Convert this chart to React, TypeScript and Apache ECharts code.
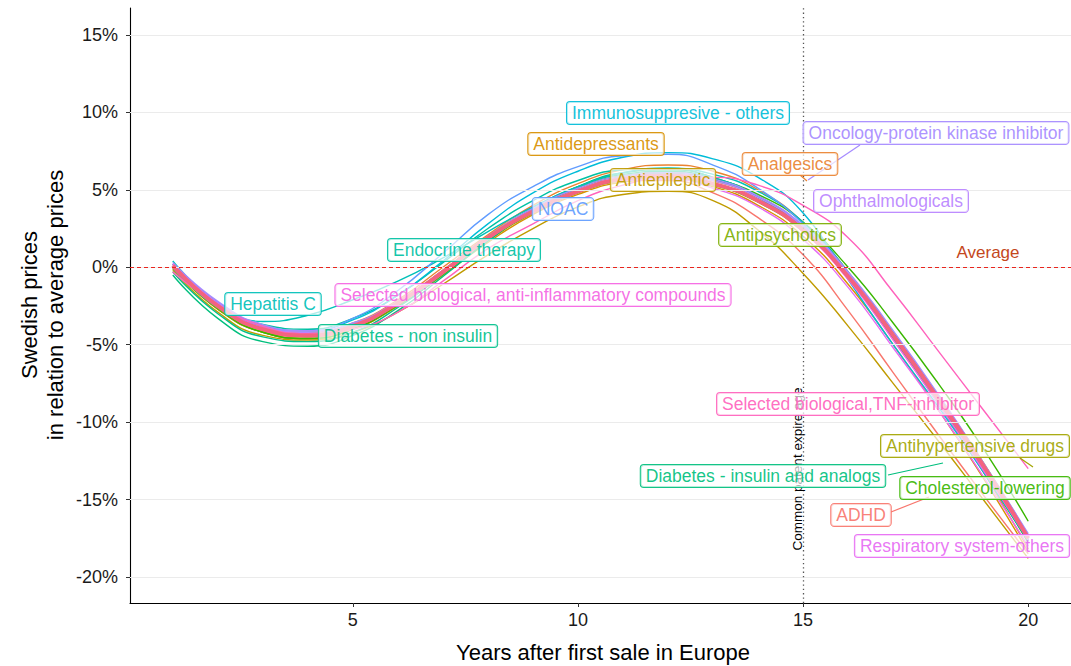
import React, { useEffect, useRef } from "react";
import * as echarts from "echarts";

// ---------- data ----------
const YEARS = [1, 2, 3, 4, 5, 6, 7, 8, 9, 10, 11, 12, 13, 14, 15, 16, 17, 18, 19, 20];
const X_TICKS = [5, 10, 15, 20];
const Y_TICKS = [-20, -15, -10, -5, 0, 5, 10, 15];
const PATENT_YEAR = 15;

const AVERAGE = [0.1, -2.5, -4.0, -4.4, -3.8, -2.3, -0.3, 1.9, 3.6, 4.9, 5.7, 5.9, 5.4, 4.3, 2.4, -0.6, -4.4, -8.5, -12.8, -17.5];
const ADHD = [0.0, -2.6, -4.1, -4.5, -3.9, -2.4, -0.4, 1.8, 3.6, 4.9, 5.6, 5.6, 4.8, 3.2, 0.8, -2.8, -6.8, -10.8, -14.7, -18.5];
const ANALGESICS = [0.2, -2.3, -3.8, -4.2, -3.6, -2.1, 0.0, 2.1, 4.0, 5.4, 6.3, 6.6, 6.2, 5.0, 2.9, -0.3, -4.3, -8.6, -13.2, -18.2];
const ANTIDEPRESSANTS = [0.0, -2.7, -4.2, -4.6, -4.0, -2.5, -0.5, 1.6, 3.4, 4.7, 5.5, 5.7, 5.2, 4.0, 2.0, -1.1, -5.0, -9.2, -13.6, -18.4];
const ANTIEPILEPTIC = [-0.2, -2.9, -4.4, -4.7, -4.2, -2.9, -1.1, 0.8, 2.5, 3.9, 4.7, 4.9, 4.3, 2.4, -0.4, -3.8, -7.5, -11.2, -15.0, -18.8];
const ANTIHYPERTENSIVE = [0.1, -2.4, -3.9, -4.3, -3.7, -2.2, -0.2, 2.0, 3.8, 5.1, 5.9, 6.1, 5.6, 4.5, 2.6, -0.4, -4.2, -8.3, -12.6, -17.3];
const ANTIPSYCHOTICS = [-0.1, -2.7, -4.2, -4.6, -4.0, -2.5, -0.5, 1.7, 3.5, 4.8, 5.6, 5.8, 5.3, 4.2, 2.3, -0.7, -4.5, -8.6, -13.0, -17.8];
const CHOLESTEROL = [0.0, -2.6, -4.2, -4.6, -4.0, -2.4, -0.3, 1.9, 3.7, 5.1, 5.9, 6.1, 5.7, 4.7, 2.9, 0.0, -3.6, -7.5, -11.7, -16.4];
const DIABETES_INSULIN = [-0.5, -3.3, -4.8, -5.1, -4.4, -2.8, -0.6, 1.7, 3.7, 5.2, 6.1, 6.3, 5.8, 4.5, 2.4, -0.7, -4.6, -8.8, -13.2, -17.7];
const DIABETES_NON_INSULIN = [-0.3, -3.0, -4.5, -4.8, -4.2, -2.6, -0.4, 1.9, 3.8, 5.2, 6.0, 6.2, 5.7, 4.5, 2.5, -0.5, -4.4, -8.5, -12.9, -17.5];
const ENDOCRINE = [0.2, -2.3, -3.7, -4.0, -3.3, -1.8, 0.3, 2.5, 4.3, 5.6, 6.3, 6.4, 5.8, 4.6, 2.6, -0.5, -4.4, -8.6, -13.0, -17.6];
const HEPATITIS_C = [0.4, -2.3, -3.5, -3.1, -2.1, -0.9, 0.6, 2.3, 3.9, 5.2, 6.1, 6.4, 6.0, 4.9, 2.9, -0.3, -4.4, -8.6, -13.0, -17.7];
const IMMUNOSUPPRESSIVE = [0.2, -2.4, -3.8, -4.1, -3.4, -1.8, 0.4, 2.8, 4.8, 6.2, 7.1, 7.4, 7.0, 5.8, 3.5, -0.8, -5.0, -9.0, -13.2, -17.6];
const NOAC = [0.0, -2.6, -3.9, -4.1, -3.3, -1.5, 0.9, 3.4, 5.2, 6.5, 7.2, 7.3, 6.6, 5.1, 2.8, -0.4, -4.4, -8.6, -13.0, -17.6];
const ONCOLOGY = [0.3, -2.2, -3.7, -4.1, -3.6, -2.2, -0.2, 2.0, 3.8, 5.1, 5.9, 6.1, 5.7, 4.6, 2.7, -0.3, -4.1, -8.2, -12.6, -17.2];
const OPHTHALMOLOGICALS = [0.2, -2.3, -3.8, -4.2, -3.7, -2.2, -0.3, 1.9, 3.7, 5.0, 5.8, 6.0, 5.6, 4.5, 2.6, -0.4, -4.3, -8.4, -12.8, -17.4];
const RESPIRATORY = [0.1, -2.5, -4.0, -4.4, -3.8, -2.3, -0.3, 1.9, 3.6, 4.9, 5.6, 5.7, 5.1, 3.9, 1.8, -1.3, -5.2, -9.2, -13.5, -18.0];
const ANTI_INFLAMMATORY = [0.2, -2.4, -3.9, -4.3, -3.8, -2.4, -0.4, 1.8, 3.6, 4.9, 5.7, 5.9, 5.4, 4.3, 2.3, -0.8, -4.7, -8.8, -13.1, -17.6];
const TNF_INHIBITOR = [-0.3, -2.4, -3.8, -4.3, -4.0, -2.9, -0.9, 1.2, 2.8, 4.3, 5.3, 5.8, 5.8, 5.3, 4.0, 1.9, -1.6, -5.4, -9.2, -13.0];

const SERIES_NAMES = [
  "ADHD", "Analgesics", "Antidepressants", "Antiepileptic", "Antihypertensive drugs",
  "Antipsychotics", "Cholesterol-lowering", "Diabetes - insulin and analogs",
  "Diabetes - non insulin", "Endocrine therapy", "Hepatitis C", "Immunosuppresive - others",
  "NOAC", "Oncology-protein kinase inhibitor", "Ophthalmologicals", "Respiratory system-others",
  "Selected biological, anti-inflammatory compounds", "Selected biological,TNF-inhibitor",
];
const SERIES_VALUES = [
  ADHD, ANALGESICS, ANTIDEPRESSANTS, ANTIEPILEPTIC, ANTIHYPERTENSIVE, ANTIPSYCHOTICS,
  CHOLESTEROL, DIABETES_INSULIN, DIABETES_NON_INSULIN, ENDOCRINE, HEPATITIS_C,
  IMMUNOSUPPRESSIVE, NOAC, ONCOLOGY, OPHTHALMOLOGICALS, RESPIRATORY, ANTI_INFLAMMATORY, TNF_INHIBITOR,
];

// ---------- styles ----------
const COLORS = [
  "#F8766D", "#EA8331", "#D89000", "#C09B00", "#A3A500", "#7CAE00", "#39B600", "#00BF7D",
  "#00C08B", "#00C1A3", "#00C0B8", "#00BCD8", "#619CFF", "#A58AFF", "#B983FF", "#E76BF3",
  "#F564E3", "#FF62BC",
];
const AVG_COLOR = "#F4637F";
const FONT = "'Liberation Sans', Arial, Helvetica, sans-serif";

// label layout (pixel centres) for each category name
const LABELS = [
  { name: "Immunosuppresive - others", x: 678, y: 113 },
  { name: "Antidepressants", x: 596, y: 144 },
  { name: "Oncology-protein kinase inhibitor", x: 936, y: 133 },
  { name: "Analgesics", x: 790, y: 164 },
  { name: "Antiepileptic", x: 663, y: 180 },
  { name: "Ophthalmologicals", x: 891, y: 201 },
  { name: "NOAC", x: 563, y: 209 },
  { name: "Antipsychotics", x: 780, y: 235 },
  { name: "Endocrine therapy", x: 464, y: 250 },
  { name: "Selected biological, anti-inflammatory compounds", x: 533, y: 295 },
  { name: "Hepatitis C", x: 273, y: 304 },
  { name: "Diabetes - non insulin", x: 408, y: 336 },
  { name: "Selected biological,TNF-inhibitor", x: 848, y: 404 },
  { name: "Antihypertensive drugs", x: 975, y: 446 },
  { name: "Diabetes - insulin and analogs", x: 763, y: 476 },
  { name: "Cholesterol-lowering", x: 985, y: 488 },
  { name: "ADHD", x: 861, y: 515 },
  { name: "Respiratory system-others", x: 962, y: 546 },
];
const LEADERS = [
  { name: "Analgesics", pts: [[800, 175], [807, 181]] },
  { name: "Oncology-protein kinase inhibitor", pts: [[860, 145], [808, 180]] },
  { name: "Antihypertensive drugs", pts: [[1020, 458], [1033, 467]] },
  { name: "Diabetes - insulin and analogs", pts: [[888, 475], [943, 463]] },
  { name: "ADHD", pts: [[891, 512], [929, 497]] },
];

function colorOf(name: string) {
  return COLORS[SERIES_NAMES.indexOf(name)];
}

export default function App() {
  const ref = useRef<HTMLDivElement>(null);

  useEffect(() => {
    if (!ref.current) return;
    const chart = echarts.init(ref.current, undefined, { renderer: "svg" });

    const lineSeries: any[] = SERIES_NAMES.map((name, i) => ({
      name,
      type: "line",
      data: YEARS.map((x, j) => [x, SERIES_VALUES[i][j]]),
      smooth: true,
      showSymbol: false,
      silent: true,
      lineStyle: { color: COLORS[i], width: 1.4 },
      z: 3,
    }));

    const gridSeries = {
      type: "line",
      data: [],
      silent: true,
      z: 1,
      markLine: {
        silent: true,
        symbol: ["none", "none"],
        label: { show: false },
        lineStyle: { color: "#EBEBEB", width: 1, type: "solid" },
        data: Y_TICKS.map((v) => ({ yAxis: v })),
      },
    };

    const refSeries = {
      type: "line",
      data: [],
      silent: true,
      z: 2,
      markLine: {
        silent: true,
        symbol: ["none", "none"],
        label: { show: false },
        data: [
          { yAxis: 0, lineStyle: { color: "#E8261E", width: 1, type: [4, 3] } },
          { xAxis: PATENT_YEAR, lineStyle: { color: "#555", width: 1.3, type: [1.3, 3] } },
        ],
      },
    };

    const avgSeries = {
      name: "Average",
      type: "line",
      data: YEARS.map((x, j) => [x, AVERAGE[j]]),
      smooth: true,
      showSymbol: false,
      silent: true,
      lineStyle: { color: AVG_COLOR, width: 4 },
      z: 4,
    };

    const graphics: any[] = [];
    graphics.push({
      type: "text",
      x: 42,
      y: 305,
      rotation: Math.PI / 2,
      z: 10,
      style: {
        text: "Swedish prices\nin relation to average prices",
        font: `22px ${FONT}`,
        fill: "#000",
        align: "center",
        verticalAlign: "middle",
        lineHeight: 26,
      },
    });
    graphics.push({
      type: "text",
      x: 603,
      y: 652,
      z: 10,
      style: {
        text: "Years after first sale in Europe",
        font: `22px ${FONT}`,
        fill: "#000",
        align: "center",
        verticalAlign: "middle",
      },
    });
    graphics.push({
      type: "text",
      x: 797,
      y: 469,
      rotation: Math.PI / 2,
      z: 50,
      style: {
        text: "Common patent expire age",
        font: `13.5px ${FONT}`,
        fill: "#000",
        align: "center",
        verticalAlign: "middle",
      },
    });
    graphics.push({
      type: "text",
      x: 988,
      y: 252,
      z: 60,
      style: {
        text: "Average",
        font: `17px ${FONT}`,
        fill: "#C4471C",
        align: "center",
        verticalAlign: "middle",
      },
    });
    LEADERS.forEach((l) => {
      graphics.push({
        type: "polyline",
        z: 60,
        shape: { points: l.pts },
        style: { stroke: colorOf(l.name), lineWidth: 1.2, fill: "none" },
      });
    });
    LABELS.forEach((l) => {
      const c = colorOf(l.name);
      graphics.push({
        type: "text",
        x: l.x,
        y: l.y,
        z: 100,
        style: {
          text: l.name,
          font: `17.5px ${FONT}`,
          fill: c,
          align: "center",
          verticalAlign: "middle",
          backgroundColor: "rgba(255,255,255,0.75)",
          borderColor: c,
          borderWidth: 1,
          borderRadius: 3,
          padding: [2, 5, 1, 5],
          lineHeight: 19,
          opacity: 0.92,
        },
      });
    });

    chart.setOption({
      animation: false,
      backgroundColor: "#fff",
      grid: { left: 130, top: 8, width: 945, height: 595, containLabel: false },
      xAxis: {
        type: "value",
        min: 0.05,
        max: 20.95,
        axisLine: { show: true, onZero: false, lineStyle: { color: "#000", width: 1.1 } },
        axisTick: { show: true, length: 4, customValues: X_TICKS, lineStyle: { color: "#333" } },
        axisLabel: {
          customValues: X_TICKS,
          fontSize: 18,
          fontFamily: FONT,
          color: "#1a1a1a",
          margin: 8,
        },
        splitLine: { show: false },
      },
      yAxis: {
        type: "value",
        min: -21.68,
        max: 16.74,
        axisLine: { show: true, onZero: false, lineStyle: { color: "#000", width: 1.1 } },
        axisTick: { show: true, length: 4, customValues: Y_TICKS, lineStyle: { color: "#333" } },
        axisLabel: {
          customValues: Y_TICKS,
          fontSize: 18,
          fontFamily: FONT,
          color: "#1a1a1a",
          margin: 12,
          formatter: (v: number) => `${v}%`,
        },
        splitLine: { show: false },
      },
      series: [gridSeries, refSeries, ...lineSeries, avgSeries],
      graphic: graphics,
    });

    return () => chart.dispose();
  }, []);

  return (
    <div
      ref={ref}
      style={{ position: "fixed", left: 0, top: 0, width: 1071, height: 666, background: "#fff" }}
    />
  );
}
